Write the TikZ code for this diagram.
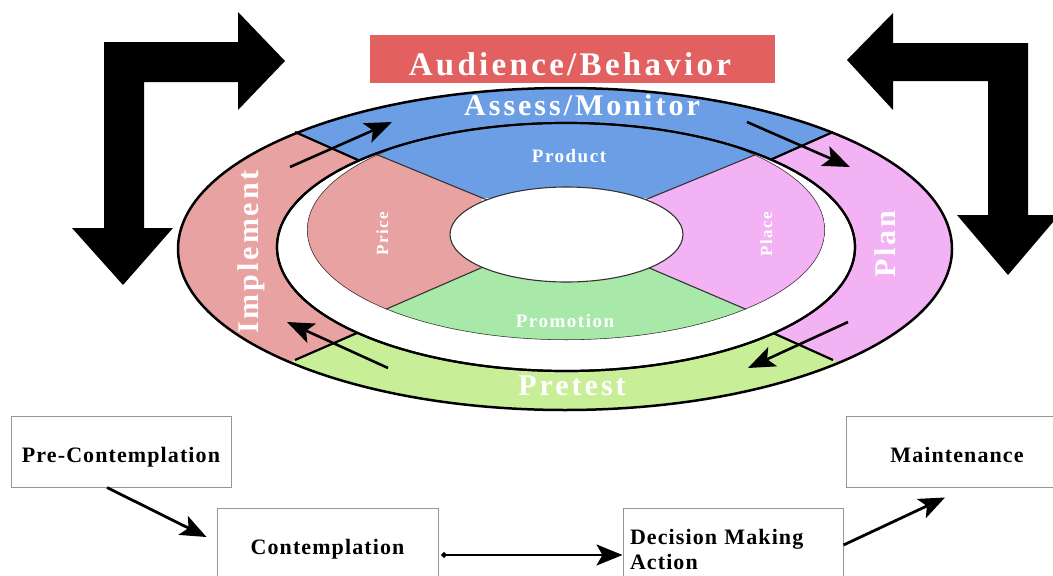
\documentclass[tikz,border=0pt]{standalone}
\usepackage{fontspec}
\setmainfont{Liberation Serif}
\newfontfamily\ringfont[LetterSpace=10]{Liberation Serif}
\newfontfamily\sectorfont[LetterSpace=8]{Liberation Serif}
\newfontfamily\stagefont[LetterSpace=5]{Liberation Serif}
\usetikzlibrary{arrows.meta}

\definecolor{ringblue}{RGB}{108,158,230}
\definecolor{ringpink}{RGB}{233,162,162}
\definecolor{ringviolet}{RGB}{243,178,243}
\definecolor{ringgreen}{RGB}{200,238,152}
\definecolor{promogreen}{RGB}{168,232,168}
\definecolor{titlered}{RGB}{226,96,96}
\definecolor{boxgray}{RGB}{150,150,150}

\begin{document}
\begin{tikzpicture}[x=1pt,y=-1pt,
  ringlabel/.style={text=white,font=\ringfont\bfseries\fontsize{30}{32}\selectfont,inner sep=0pt},
  titlelabel/.style={text=white,font=\ringfont\bfseries\fontsize{33}{35}\selectfont,inner sep=0pt},
  sectorlabel/.style={text=white,font=\sectorfont\bfseries\fontsize{19}{21}\selectfont,inner sep=0pt},
  sidelabel/.style={text=white,font=\sectorfont\bfseries\fontsize{17}{19}\selectfont,inner sep=0pt,rotate=90},
  stagebox/.style={draw=boxgray,line width=1pt,fill=white,inner sep=0pt,
    font=\stagefont\bfseries\fontsize{22}{25}\selectfont},
  flow/.style={line width=2.8pt,-{Stealth[length=26pt,width=21pt,inset=6pt]}},
  cyclearrow/.style={line width=2.6pt,-{Stealth[length=27pt,width=21pt,inset=6pt]}},
  ringedge/.style={line width=2.2pt,draw=black},
  diskedge/.style={line width=1.1pt,draw=black!80}
]
\useasboundingbox (0,0) rectangle (1053,576);
\fill[white] (0,0) rectangle (1053,576);
\clip (0,0) rectangle (1053,576);

% big L-shaped arrows
\fill[black] (123,285) -- (173,228) -- (144,228) -- (144,82) -- (238,82) -- (238,110)
  -- (285,61) -- (238,12) -- (238,42) -- (104,42) -- (104,228) -- (72,228) -- cycle;
\fill[black] (847,60) -- (893,110) -- (893,81) -- (988,81) -- (988,215) -- (957,215)
  -- (1008,275) -- (1059,215) -- (1028,215) -- (1028,43) -- (893,43) -- (893,13) -- cycle;

% title bar
\node[fill=titlered,minimum width=405pt,minimum height=48pt,inner sep=0pt] (title) at (572.5,59) {};
\node[titlelabel,anchor=base] (titletext) at (570,75) {Audience/Behavior};

% outer ring sectors
\begin{scope}
  \clip (565,249) ellipse [x radius=387pt, y radius=161pt];
  \fill[ringblue] (160,72) -- (358,160) -- (770,160) -- (970,71) -- (970,0) -- (160,0) -- cycle;
  \fill[ringpink] (160,72) -- (358,160) -- (357,333) -- (160,419) -- cycle;
  \fill[ringviolet] (970,71) -- (770,160) -- (773,333) -- (970,422) -- cycle;
  \fill[ringgreen] (160,419) -- (357,333) -- (773,333) -- (970,422) -- (970,500) -- (160,500) -- cycle;
\end{scope}
\draw[ringedge] (295,132) -- (358,160);
\draw[ringedge] (833,132) -- (770,160);
\draw[ringedge] (295,360) -- (357,333);
\draw[ringedge] (833,360) -- (773,333);
\draw[ringedge,line width=2.5pt] (565,249) ellipse [x radius=387pt, y radius=161pt];
\filldraw[ringedge,fill=white] (566,247) ellipse [x radius=289pt, y radius=124pt];

% inner disk: the four Ps
\begin{scope}
  \clip (566,247) ellipse [x radius=288pt, y radius=123pt];
  \clip (566,230) ellipse [x radius=259pt, y radius=110pt];
  \fill[ringblue] (284,116) -- (482,198) -- (650,198) -- (850,116) -- (850,100) -- (284,100) -- cycle;
  \fill[promogreen] (284,355) -- (480,268) -- (650,268) -- (850,355) -- (850,360) -- (284,360) -- cycle;
  \fill[ringpink] (284,116) -- (482,198) -- (480,268) -- (284,355) -- cycle;
  \fill[ringviolet] (850,116) -- (650,198) -- (650,268) -- (850,355) -- cycle;
  \draw[diskedge] (373,153) -- (492,202);
  \draw[diskedge] (490,264) -- (375,314);
  \draw[diskedge] (757,154) -- (640,202);
  \draw[diskedge] (640,264) -- (757,314);
  \draw[diskedge] (566,230) ellipse [x radius=259pt, y radius=110pt];
\end{scope}
\draw[ringedge] (566,247) ellipse [x radius=289pt, y radius=124pt];
\filldraw[diskedge,fill=white] (566.5,234.5) ellipse [x radius=116.5pt, y radius=47.5pt];

% ring labels
\node[ringlabel,anchor=base] (assess) at (582,115) {Assess/Monitor};
\node[ringlabel,anchor=base] (pretest) at (572,395) {Pretest};
\node[ringlabel,anchor=base,rotate=90] (implement) at (258,252) {Implement};
\node[ringlabel,anchor=base,rotate=90] (plan) at (895,244) {Plan};

% sector labels
\node[sectorlabel,anchor=base] (product) at (569,162) {Product};
\node[sectorlabel,anchor=base] (promotion) at (565,327) {Promotion};
\node[sidelabel,anchor=base] (price) at (388,234) {Price};
\node[sidelabel,anchor=base] (place) at (772,234) {Place};

% cycle arrows on the ring
\coordinate (a1s) at (290,167); \coordinate (a1e) at (392,122);
\coordinate (a2s) at (747,122); \coordinate (a2e) at (850,167);
\coordinate (a3s) at (848,322); \coordinate (a3e) at (748,368);
\coordinate (a4s) at (388,368); \coordinate (a4e) at (287,322);
\draw[cyclearrow] (a1s) -- (a1e);
\draw[cyclearrow] (a2s) -- (a2e);
\draw[cyclearrow] (a3s) -- (a3e);
\draw[cyclearrow] (a4s) -- (a4e);

% stages of change
\node[stagebox,minimum width=220pt,minimum height=71pt,text height=26pt,text depth=4pt] (pre) at (121,451.5) {Pre-Contemplation};
\node[stagebox,minimum width=221pt,minimum height=82pt] (cont) at (327.5,549) {Contemplation};
\node[stagebox,minimum width=220pt,minimum height=82pt,text width=206pt,align=left] (dec) at (733,549) {Decision Making\\Action};
\node[stagebox,minimum width=222pt,minimum height=71pt,text height=26pt,text depth=4pt] (maint) at (957,451.5) {Maintenance};

\draw[flow] ([xshift=-14pt]pre.south) -- ([xshift=-10pt,yshift=12pt]cont.west);
\draw[flow,{Circle[length=5pt]}-{Stealth[length=26pt,width=21pt,inset=6pt]}] ([xshift=3pt,yshift=-6pt]cont.east) -- ([yshift=-6pt]dec.west);
\draw[flow] ([yshift=4pt]dec.east) -- ([xshift=-12pt,yshift=-10pt]maint.south);
\end{tikzpicture}
\end{document}
